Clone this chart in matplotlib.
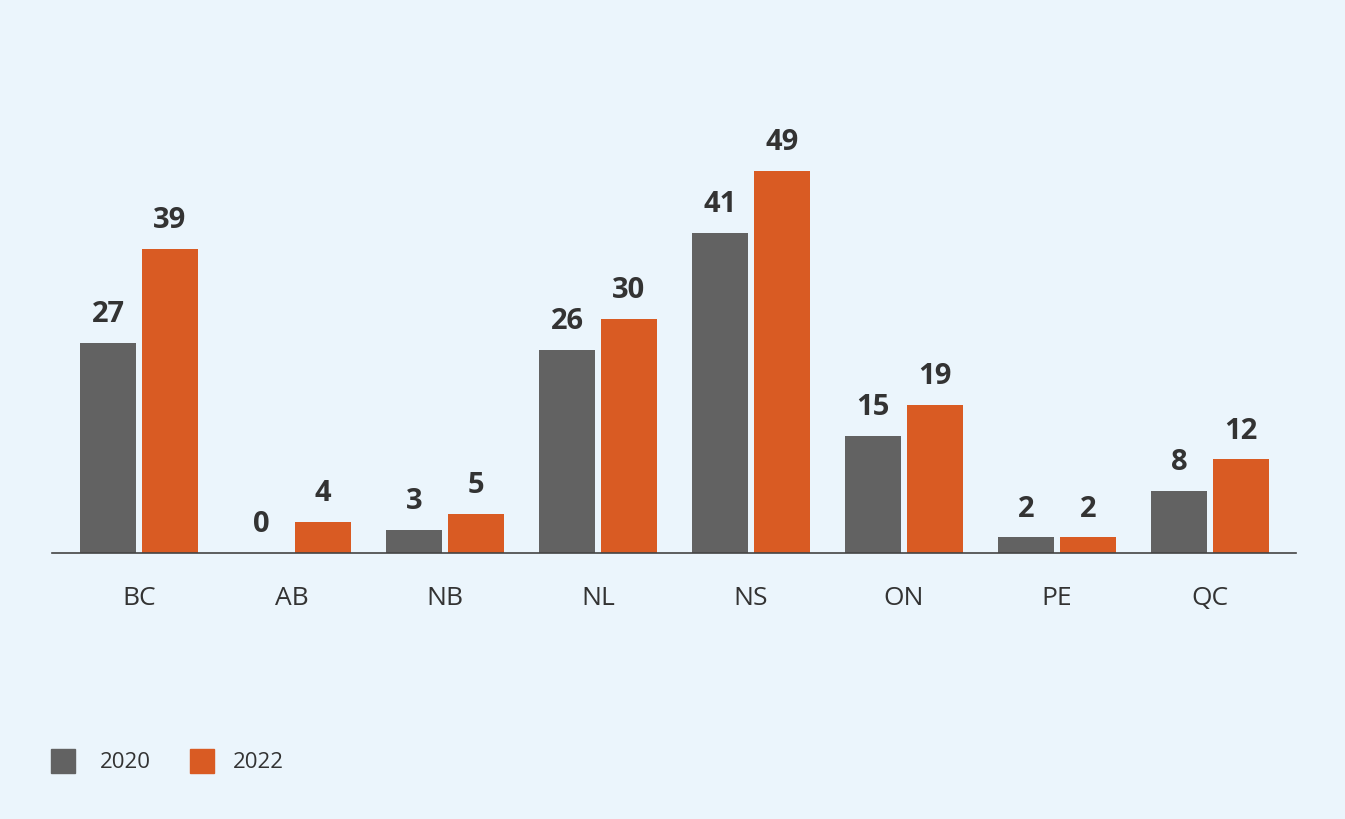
import numpy as np
import matplotlib.pyplot as plt
from matplotlib.patches import Rectangle

provinces = ['BC', 'AB', 'NB', 'NL', 'NS', 'ON', 'PE', 'QC']
counts_2020 = [27, 0, 3, 26, 41, 15, 2, 8]
counts_2022 = [39, 4, 5, 30, 49, 19, 2, 12]
years = ['2020', '2022']

BG = '#EBF5FC'
GREY = '#626262'
ORANGE = '#D95B23'
TEXT = '#333333'

plt.rcParams['font.family'] = ['Open Sans', 'DejaVu Sans']

W, H = 1345, 819
fig = plt.figure(figsize=(W / 100, H / 100), dpi=100, facecolor=BG)
ax = fig.add_axes([52 / W, (H - 553) / H, 1244 / W, 553 / H])
ax.set_facecolor(BG)

x = np.arange(len(provinces))
width = 56 / 153
offset = 31 / 153
b1 = ax.bar(x - offset, counts_2020, width, color=GREY)
b2 = ax.bar(x + offset, counts_2022, width, color=ORANGE)

for bars, vals in ((b1, counts_2020), (b2, counts_2022)):
    for rect, v in zip(bars, vals):
        ax.annotate(str(v), (rect.get_x() + rect.get_width() / 2, v),
                    xytext=(0, 10), textcoords='offset points',
                    ha='center', va='bottom', fontsize=21,
                    fontweight='bold', color=TEXT)

ax.set_xlim(-87 / 153, 7 + 86 / 153)
ax.set_ylim(0, 553 / 7.796)
ax.set_xticks(x)
ax.set_xticklabels(provinces, fontsize=19, color=TEXT)
ax.tick_params(axis='x', length=0, pad=24)
ax.set_yticks([])
for s in ('top', 'right', 'left'):
    ax.spines[s].set_visible(False)
ax.spines['bottom'].set_color('#444444')
ax.spines['bottom'].set_linewidth(1.2)

# legend drawn as squares in figure pixels
for (x0, tx), col, lab in zip(((51, 100), (190, 233)), (GREY, ORANGE), years):
    fig.patches.append(Rectangle((x0 / W, (H - 773) / H), 24 / W, 24 / H,
                                 transform=fig.transFigure, color=col))
    fig.text(tx / W, (H - 762) / H, lab, fontsize=16, color=TEXT,
             ha='left', va='center')

fig.savefig('out.png', dpi=100, facecolor=BG)
